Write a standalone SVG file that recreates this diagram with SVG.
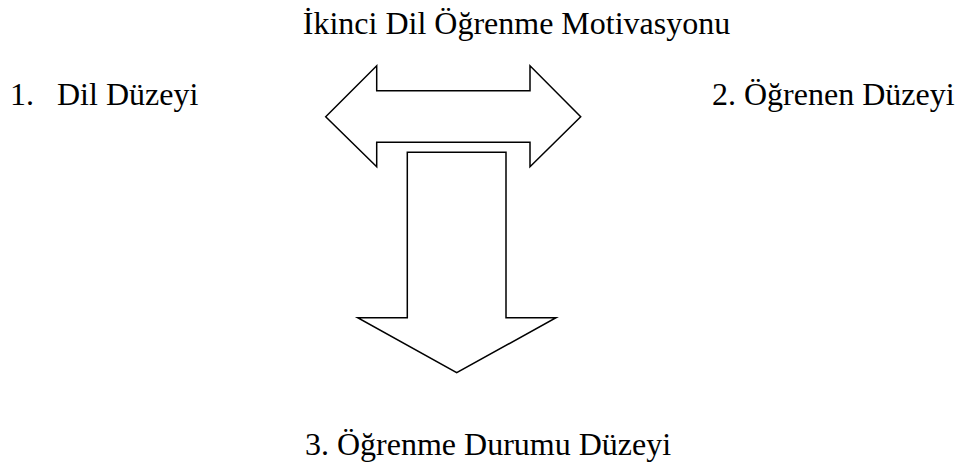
<svg xmlns="http://www.w3.org/2000/svg" width="956" height="470" viewBox="0 0 956 470">
<style>
.t{font-family:'Liberation Serif','Times New Roman',serif;font-size:32px;fill:#000}
.s{fill:#fff;stroke:#000;stroke-width:1.5;stroke-linejoin:miter}
</style>
<rect width="956" height="470" fill="#fff"/>
<g id="title"><text class="t" x="516.5" y="34" text-anchor="middle">İkinci Dil Öğrenme Motivasyonu</text></g>
<g id="node1"><text class="t" x="10" y="105">1.</text><text class="t" x="57" y="105">Dil Düzeyi</text></g>
<g id="node2"><text class="t" x="712" y="105">2. Öğrenen Düzeyi</text></g>
<g id="node3"><text class="t" x="305" y="455">3. Öğrenme Durumu Düzeyi</text></g>
<g id="connectors">
<path class="s" d="M325.7,116.7 L376.7,65.7 L376.7,90.7 L530,90.7 L530,65.7 L580.7,116.7 L530,166.7 L530,142.3 L376.7,142.3 L376.7,166.7 Z"/>
<path class="s" d="M407.3,152.3 L506,152.3 L506,317.7 L556,317.7 L456.7,372.7 L357.7,317.7 L407.3,317.7 Z"/>
</g>
</svg>
